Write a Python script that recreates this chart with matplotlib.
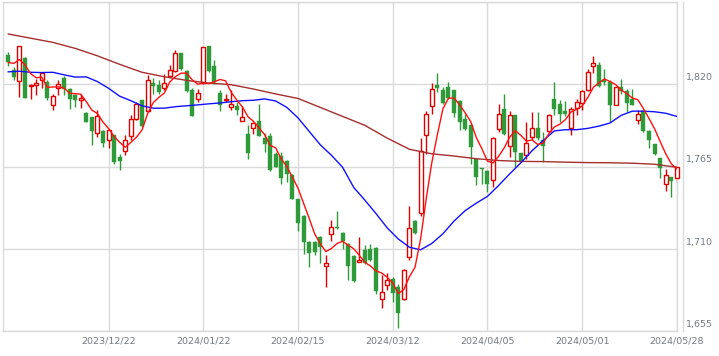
import matplotlib
matplotlib.use('Agg')
import matplotlib.pyplot as plt
from matplotlib.lines import Line2D
from matplotlib.transforms import blended_transform_factory
import numpy as np

# daily candles, oldest first (first candle is 18 sessions before 2023/12/22)
opens = [1839.4, 1829.4, 1822.5, 1837.4, 1819.1, 1819.6, 1823.1, 1821.6, 1805.9, 1817.3,
         1824.5, 1817.1, 1812.6, 1809.3, 1801.0, 1798.1, 1787.6, 1788.5, 1782.9, 1785.8,
         1771.3, 1775.3, 1785.6, 1797.0, 1809.3, 1801.9, 1820.7, 1819.3, 1817.8, 1825.8,
         1828.7, 1840.6, 1828.7, 1816.0, 1810.4, 1820.9, 1845.5, 1832.1, 1814.4, 1809.5,
         1805.0, 1805.2, 1795.6, 1786.5, 1790.7, 1795.4, 1784.2, 1785.3, 1773.5, 1772.2,
         1769.0, 1759.0, 1743.3, 1732.1, 1714.3, 1714.3, 1718.1, 1698.4, 1719.8, 1724.8,
         1720.3, 1713.1, 1705.3, 1701.3, 1709.3, 1709.8, 1710.5, 1676.2, 1685.6, 1689.7,
         1684.5, 1676.2, 1704.2, 1728.8, 1733.7, 1786.2, 1805.2, 1819.3, 1816.0, 1818.2,
         1816.0, 1808.6, 1797.0, 1792.5, 1769.7, 1763.9, 1762.3, 1756.1, 1790.3, 1803.7,
         1778.6, 1799.2, 1774.2, 1772.4, 1784.7, 1790.9, 1782.4, 1788.5, 1810.4, 1807.0,
         1802.1, 1790.9, 1804.3, 1807.5, 1816.0, 1832.5, 1832.7, 1823.1, 1821.6, 1805.9,
         1818.2, 1815.5, 1810.4, 1796.3, 1802.1, 1788.7, 1779.8, 1770.8, 1753.4, 1758.3,
         1757.2]
highs = [1841.7, 1831.6, 1845.7, 1838.0, 1820.4, 1823.8, 1828.3, 1822.7, 1813.7, 1823.1,
         1825.4, 1817.8, 1813.7, 1813.7, 1801.4, 1798.1, 1803.0, 1789.2, 1790.3, 1785.8,
         1773.5, 1785.8, 1799.2, 1808.2, 1809.3, 1826.0, 1824.5, 1822.7, 1826.7, 1832.8,
         1842.8, 1841.0, 1829.4, 1817.8, 1817.1, 1844.6, 1845.5, 1836.1, 1816.0, 1813.3,
         1816.0, 1808.2, 1805.2, 1792.5, 1794.7, 1806.6, 1787.4, 1787.4, 1774.6, 1774.6,
         1769.5, 1760.1, 1743.6, 1732.5, 1715.0, 1715.0, 1718.5, 1705.8, 1729.2, 1735.5,
         1721.4, 1713.8, 1706.0, 1718.1, 1712.5, 1713.1, 1710.9, 1692.6, 1693.5, 1690.8,
         1686.7, 1696.4, 1738.9, 1729.2, 1784.2, 1802.1, 1821.1, 1827.2, 1818.2, 1821.6,
         1816.0, 1809.3, 1800.3, 1793.6, 1770.1, 1764.1, 1762.5, 1784.7, 1807.0, 1813.7,
         1802.1, 1799.2, 1774.2, 1794.7, 1801.4, 1801.4, 1788.0, 1800.3, 1821.6, 1809.3,
         1808.8, 1804.8, 1810.4, 1816.0, 1830.5, 1838.8, 1835.0, 1830.5, 1822.7, 1818.2,
         1823.8, 1817.1, 1817.1, 1802.6, 1803.0, 1789.6, 1779.8, 1770.8, 1763.4, 1758.3,
         1765.0]
lows = [1832.1, 1822.7, 1811.5, 1810.5, 1810.4, 1812.6, 1817.8, 1809.3, 1803.0, 1812.6,
        1812.6, 1803.7, 1804.8, 1804.3, 1794.7, 1779.5, 1784.7, 1778.0, 1777.3, 1766.8,
        1762.8, 1772.4, 1782.4, 1795.9, 1791.4, 1801.4, 1813.7, 1813.7, 1816.4, 1824.9,
        1828.3, 1829.4, 1814.9, 1798.8, 1808.2, 1820.4, 1828.3, 1820.4, 1801.9, 1808.2,
        1803.0, 1799.2, 1795.4, 1770.2, 1786.9, 1785.3, 1774.6, 1762.3, 1764.6, 1753.4,
        1754.5, 1743.3, 1722.1, 1706.4, 1697.9, 1705.8, 1700.8, 1684.1, 1715.4, 1723.2,
        1709.8, 1689.0, 1688.1, 1701.0, 1699.7, 1702.0, 1679.6, 1670.2, 1682.3, 1674.7,
        1657.2, 1675.8, 1702.4, 1719.8, 1732.1, 1773.1, 1799.9, 1814.9, 1807.0, 1810.4,
        1798.1, 1789.2, 1789.2, 1766.8, 1752.3, 1753.4, 1747.8, 1751.6, 1788.0, 1785.8,
        1771.3, 1765.0, 1767.9, 1770.1, 1782.4, 1782.4, 1767.9, 1788.0, 1799.2, 1794.7,
        1798.5, 1785.8, 1799.2, 1802.6, 1815.5, 1827.2, 1818.2, 1819.3, 1794.7, 1805.9,
        1813.3, 1801.4, 1805.9, 1793.6, 1788.0, 1777.5, 1772.4, 1757.2, 1748.5, 1744.9,
        1753.8]
closes = [1835.0, 1824.9, 1845.3, 1810.8, 1819.8, 1820.9, 1827.2, 1810.8, 1812.2, 1820.0,
          1817.1, 1809.9, 1809.3, 1810.8, 1794.7, 1788.7, 1798.5, 1780.7, 1789.6, 1767.9,
          1768.6, 1782.9, 1796.5, 1807.0, 1792.1, 1823.1, 1819.1, 1814.9, 1821.1, 1829.8,
          1840.6, 1830.5, 1815.5, 1798.8, 1814.4, 1844.6, 1828.9, 1821.6, 1806.4, 1809.9,
          1806.8, 1803.0, 1798.3, 1773.9, 1794.1, 1785.3, 1779.8, 1762.8, 1765.0, 1757.2,
          1760.1, 1743.3, 1727.0, 1714.3, 1707.1, 1707.5, 1711.3, 1700.4, 1724.8, 1723.7,
          1714.9, 1698.2, 1688.5, 1702.6, 1700.4, 1702.6, 1681.8, 1681.4, 1689.0, 1680.7,
          1667.3, 1695.7, 1723.9, 1720.3, 1775.3, 1800.3, 1817.1, 1817.5, 1807.5, 1811.1,
          1800.8, 1794.7, 1790.3, 1778.0, 1758.3, 1763.2, 1753.4, 1784.2, 1799.9, 1786.5,
          1799.2, 1774.6, 1768.6, 1780.7, 1790.9, 1784.2, 1778.4, 1799.7, 1803.7, 1800.3,
          1799.9, 1803.7, 1808.2, 1815.5, 1828.3, 1833.9, 1818.7, 1821.6, 1806.4, 1818.2,
          1815.5, 1807.5, 1806.4, 1800.3, 1788.7, 1782.4, 1773.1, 1764.1, 1759.0, 1755.6,
          1764.6]

# short average (red), one value per candle
ma_short = [1834.5, 1834.0, 1836.5, 1833.0, 1827.2, 1824.3, 1824.8, 1817.9, 1818.2, 1818.2,
            1817.5, 1814.0, 1813.7, 1813.4, 1808.4, 1802.7, 1800.4, 1794.7, 1790.4, 1785.1,
            1781.1, 1777.9, 1781.1, 1784.6, 1789.4, 1800.3, 1807.6, 1811.2, 1814.1, 1821.6,
            1825.1, 1827.4, 1827.5, 1823.0, 1820.0, 1820.8, 1820.4, 1821.7, 1823.2, 1822.3,
            1814.7, 1809.5, 1804.9, 1798.4, 1795.2, 1790.9, 1786.3, 1779.2, 1777.4, 1770.0,
            1765.0, 1757.7, 1750.5, 1740.4, 1730.4, 1719.8, 1713.4, 1708.1, 1710.2, 1713.5,
            1715.0, 1712.4, 1710.0, 1705.6, 1700.9, 1698.5, 1695.2, 1693.8, 1691.0, 1687.1,
            1680.0, 1682.8, 1691.3, 1697.6, 1716.5, 1743.1, 1767.4, 1786.1, 1803.5, 1810.7,
            1810.8, 1806.3, 1800.9, 1795.0, 1784.4, 1776.9, 1768.6, 1767.4, 1771.8, 1777.4,
            1784.6, 1788.9, 1785.8, 1781.9, 1782.8, 1779.8, 1780.6, 1786.8, 1791.4, 1793.3,
            1796.4, 1801.5, 1803.2, 1805.5, 1811.1, 1817.9, 1820.9, 1823.6, 1821.8, 1819.8,
            1816.1, 1813.8, 1810.8, 1809.6, 1803.7, 1797.1, 1790.2, 1781.7, 1773.5, 1766.8,
            1763.3]

# medium average (blue), read every 2nd candle
ma_mid = [1828.3, 1828.7, 1828.0, 1827.8, 1828.0, 1826.3, 1824.8, 1824.9, 1821.8, 1817.3,
          1812.0, 1809.0, 1805.6, 1804.0, 1804.0, 1805.0, 1805.6, 1806.2, 1806.9, 1807.5,
          1808.3, 1809.0, 1809.3, 1810.2, 1808.8, 1804.5, 1797.5, 1788.5, 1779.5, 1772.5,
          1764.5, 1751.0, 1742.5, 1733.5, 1724.0, 1716.5, 1711.0, 1709.3, 1713.5, 1720.0,
          1728.5, 1735.5, 1740.5, 1745.0, 1752.3, 1760.1, 1767.5, 1775.5, 1782.4, 1788.8,
          1789.6, 1789.6, 1790.5, 1792.0, 1794.1, 1799.2, 1802.0, 1802.0, 1801.6, 1800.6,
          1798.5]

# long average (dark red), read every 4th candle
ma_long = [1853.6, 1850.8, 1848.0, 1844.0, 1839.0, 1833.3, 1828.0, 1825.0, 1822.6, 1820.8,
           1819.7, 1816.8, 1813.5, 1810.5, 1804.5, 1798.5, 1792.5, 1784.0, 1776.5, 1773.5,
           1772.0, 1770.2, 1769.0, 1768.4, 1768.3, 1767.9, 1767.6, 1767.5, 1767.2, 1766.5,
           1764.5]

date_labels = ['2023/12/22', '2024/01/22', '2024/02/15', '2024/03/12',
               '2024/04/05', '2024/05/01', '2024/05/28']
price_ticks = [1655, 1710, 1765, 1820, 1875]

UP = '#e00000'
DOWN = '#2f9a3a'
GRID = '#dadada'
TXT = '#737a84'

fig = plt.figure(figsize=(7.19, 3.56), dpi=100)
ax = fig.add_axes([3 / 719, 1 - 331 / 356, 674 / 719, 329 / 356])

x = np.arange(len(closes))
o = np.array(opens)
c = np.array(closes)
h = np.array(highs)
l = np.array(lows)
up = c >= o
dn = ~up
w = 0.72

# wicks
ax.vlines(x[up], l[up], h[up], color=UP, lw=1, zorder=2)
ax.vlines(x[dn], l[dn], h[dn], color=DOWN, lw=1, zorder=2)

# bodies
hu = np.maximum(c[up] - o[up], 0.5)
ax.bar(x[up], hu, bottom=o[up], width=w, color='white', edgecolor=UP,
       linewidth=1, zorder=3, clip_on=False)
hd = np.maximum(o[dn] - c[dn], 0.6)
ax.bar(x[dn], hd, bottom=c[dn], width=w, color=DOWN, edgecolor=DOWN,
       linewidth=0.3, zorder=3)

# moving averages
ax.plot(x[::4], ma_long, color='#a42e2e', lw=1, zorder=4)
ax.plot(x[::2], ma_mid, color='#1010ff', lw=1, zorder=4)
ax.plot(x, ma_short, color='#ff1010', lw=1, zorder=5)

ax.set_xlim(-0.95, len(closes) - 1 + 0.02)
ax.set_ylim(price_ticks[0], price_ticks[-1])

tick_pos = [18 + 17 * k for k in range(len(date_labels))]
ax.set_xticks(tick_pos)
ax.set_xticklabels(date_labels, fontsize=6.8, color=TXT)
ax.set_yticks(price_ticks)
ax.set_yticklabels([])
ax.tick_params(length=0, pad=4)
ax.grid(color=GRID, lw=1, zorder=0)
ax.set_axisbelow(True)
for s in ax.spines.values():
    s.set_color(GRID)
    s.set_linewidth(1)

# separate price-axis line just right of the plot
fig.add_artist(Line2D([683 / 719, 683 / 719], [1 - 331 / 356, 1 - 2 / 356],
                      color=GRID, lw=1))

trans = blended_transform_factory(ax.transAxes, ax.transData)
for v in price_ticks[:-1]:
    ax.text(1.0135, v + 1.5, f'{v:,}', transform=trans, ha='left', va='bottom',
            fontsize=6.8, color=TXT)

fig.savefig('out.png', dpi=100)
